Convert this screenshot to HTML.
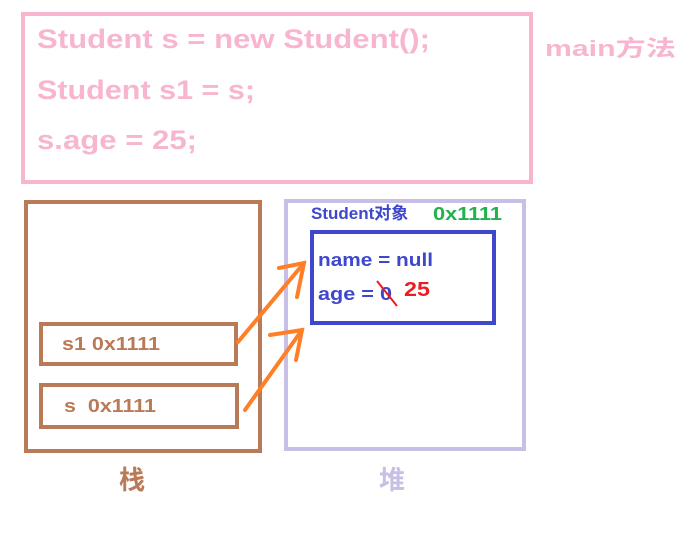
<!DOCTYPE html>
<html><head><meta charset="utf-8"><style>
body{margin:0;background:#fff;}
svg{display:block;font-family:"Liberation Sans","Noto Sans CJK SC",sans-serif;font-weight:bold;}
</style></head><body>
<svg width="698" height="536" viewBox="0 0 698 536">
<rect x="23" y="14" width="508" height="168" fill="none" stroke="#f7b5cf" stroke-width="4"/>
<g fill="#f7b5cf" font-size="27">
<text x="37" y="48" textLength="393" lengthAdjust="spacingAndGlyphs">Student s = new Student();</text>
<text x="37" y="99" textLength="218" lengthAdjust="spacingAndGlyphs">Student s1 = s;</text>
<text x="37" y="149" textLength="160" lengthAdjust="spacingAndGlyphs">s.age = 25;</text>
<text x="545" y="56" font-size="22" textLength="131" lengthAdjust="spacingAndGlyphs">main方法</text>
</g>
<rect x="26" y="202" width="234" height="249" fill="none" stroke="#b97a57" stroke-width="4"/>
<rect x="41" y="324" width="195" height="40" fill="none" stroke="#b97a57" stroke-width="4"/>
<rect x="41" y="385" width="196" height="42" fill="none" stroke="#b97a57" stroke-width="4"/>
<g fill="#b97a57" font-size="18">
<text x="62" y="350" textLength="98" lengthAdjust="spacingAndGlyphs">s1 0x1111</text>
<text x="64" y="412" textLength="92" lengthAdjust="spacingAndGlyphs">s&#160; 0x1111</text>
<text x="119" y="489" font-size="26">栈</text>
</g>
<rect x="286" y="201" width="238" height="248" fill="none" stroke="#c8bfe7" stroke-width="4"/>
<text x="379" y="489" font-size="26" fill="#c8bfe7">堆</text>
<text x="311" y="219" font-size="17" fill="#3f48cc">Student对象</text>
<text x="433" y="220" font-size="18" fill="#22b14c" textLength="69" lengthAdjust="spacingAndGlyphs">0x1111</text>
<rect x="312" y="232" width="182" height="91" fill="none" stroke="#3f48cc" stroke-width="4"/>
<g fill="#3f48cc" font-size="18">
<text x="318" y="266" textLength="115" lengthAdjust="spacingAndGlyphs">name = null</text>
<text x="318" y="300" textLength="74" lengthAdjust="spacingAndGlyphs">age = 0</text>
</g>
<line x1="377" y1="281" x2="397" y2="306" stroke="#ed1c24" stroke-width="2"/>
<text x="404" y="296" font-size="20" fill="#ed1c24" textLength="26" lengthAdjust="spacingAndGlyphs">25</text>
<g stroke="#ff7f27" stroke-width="4" stroke-linecap="round" fill="none">
<line x1="238" y1="342" x2="304" y2="263"/>
<polyline points="279,268 304,263 297,297"/>
<line x1="245" y1="410" x2="302" y2="330"/>
<polyline points="270,335 302,330 296,360"/>
</g>
</svg>
</body></html>
